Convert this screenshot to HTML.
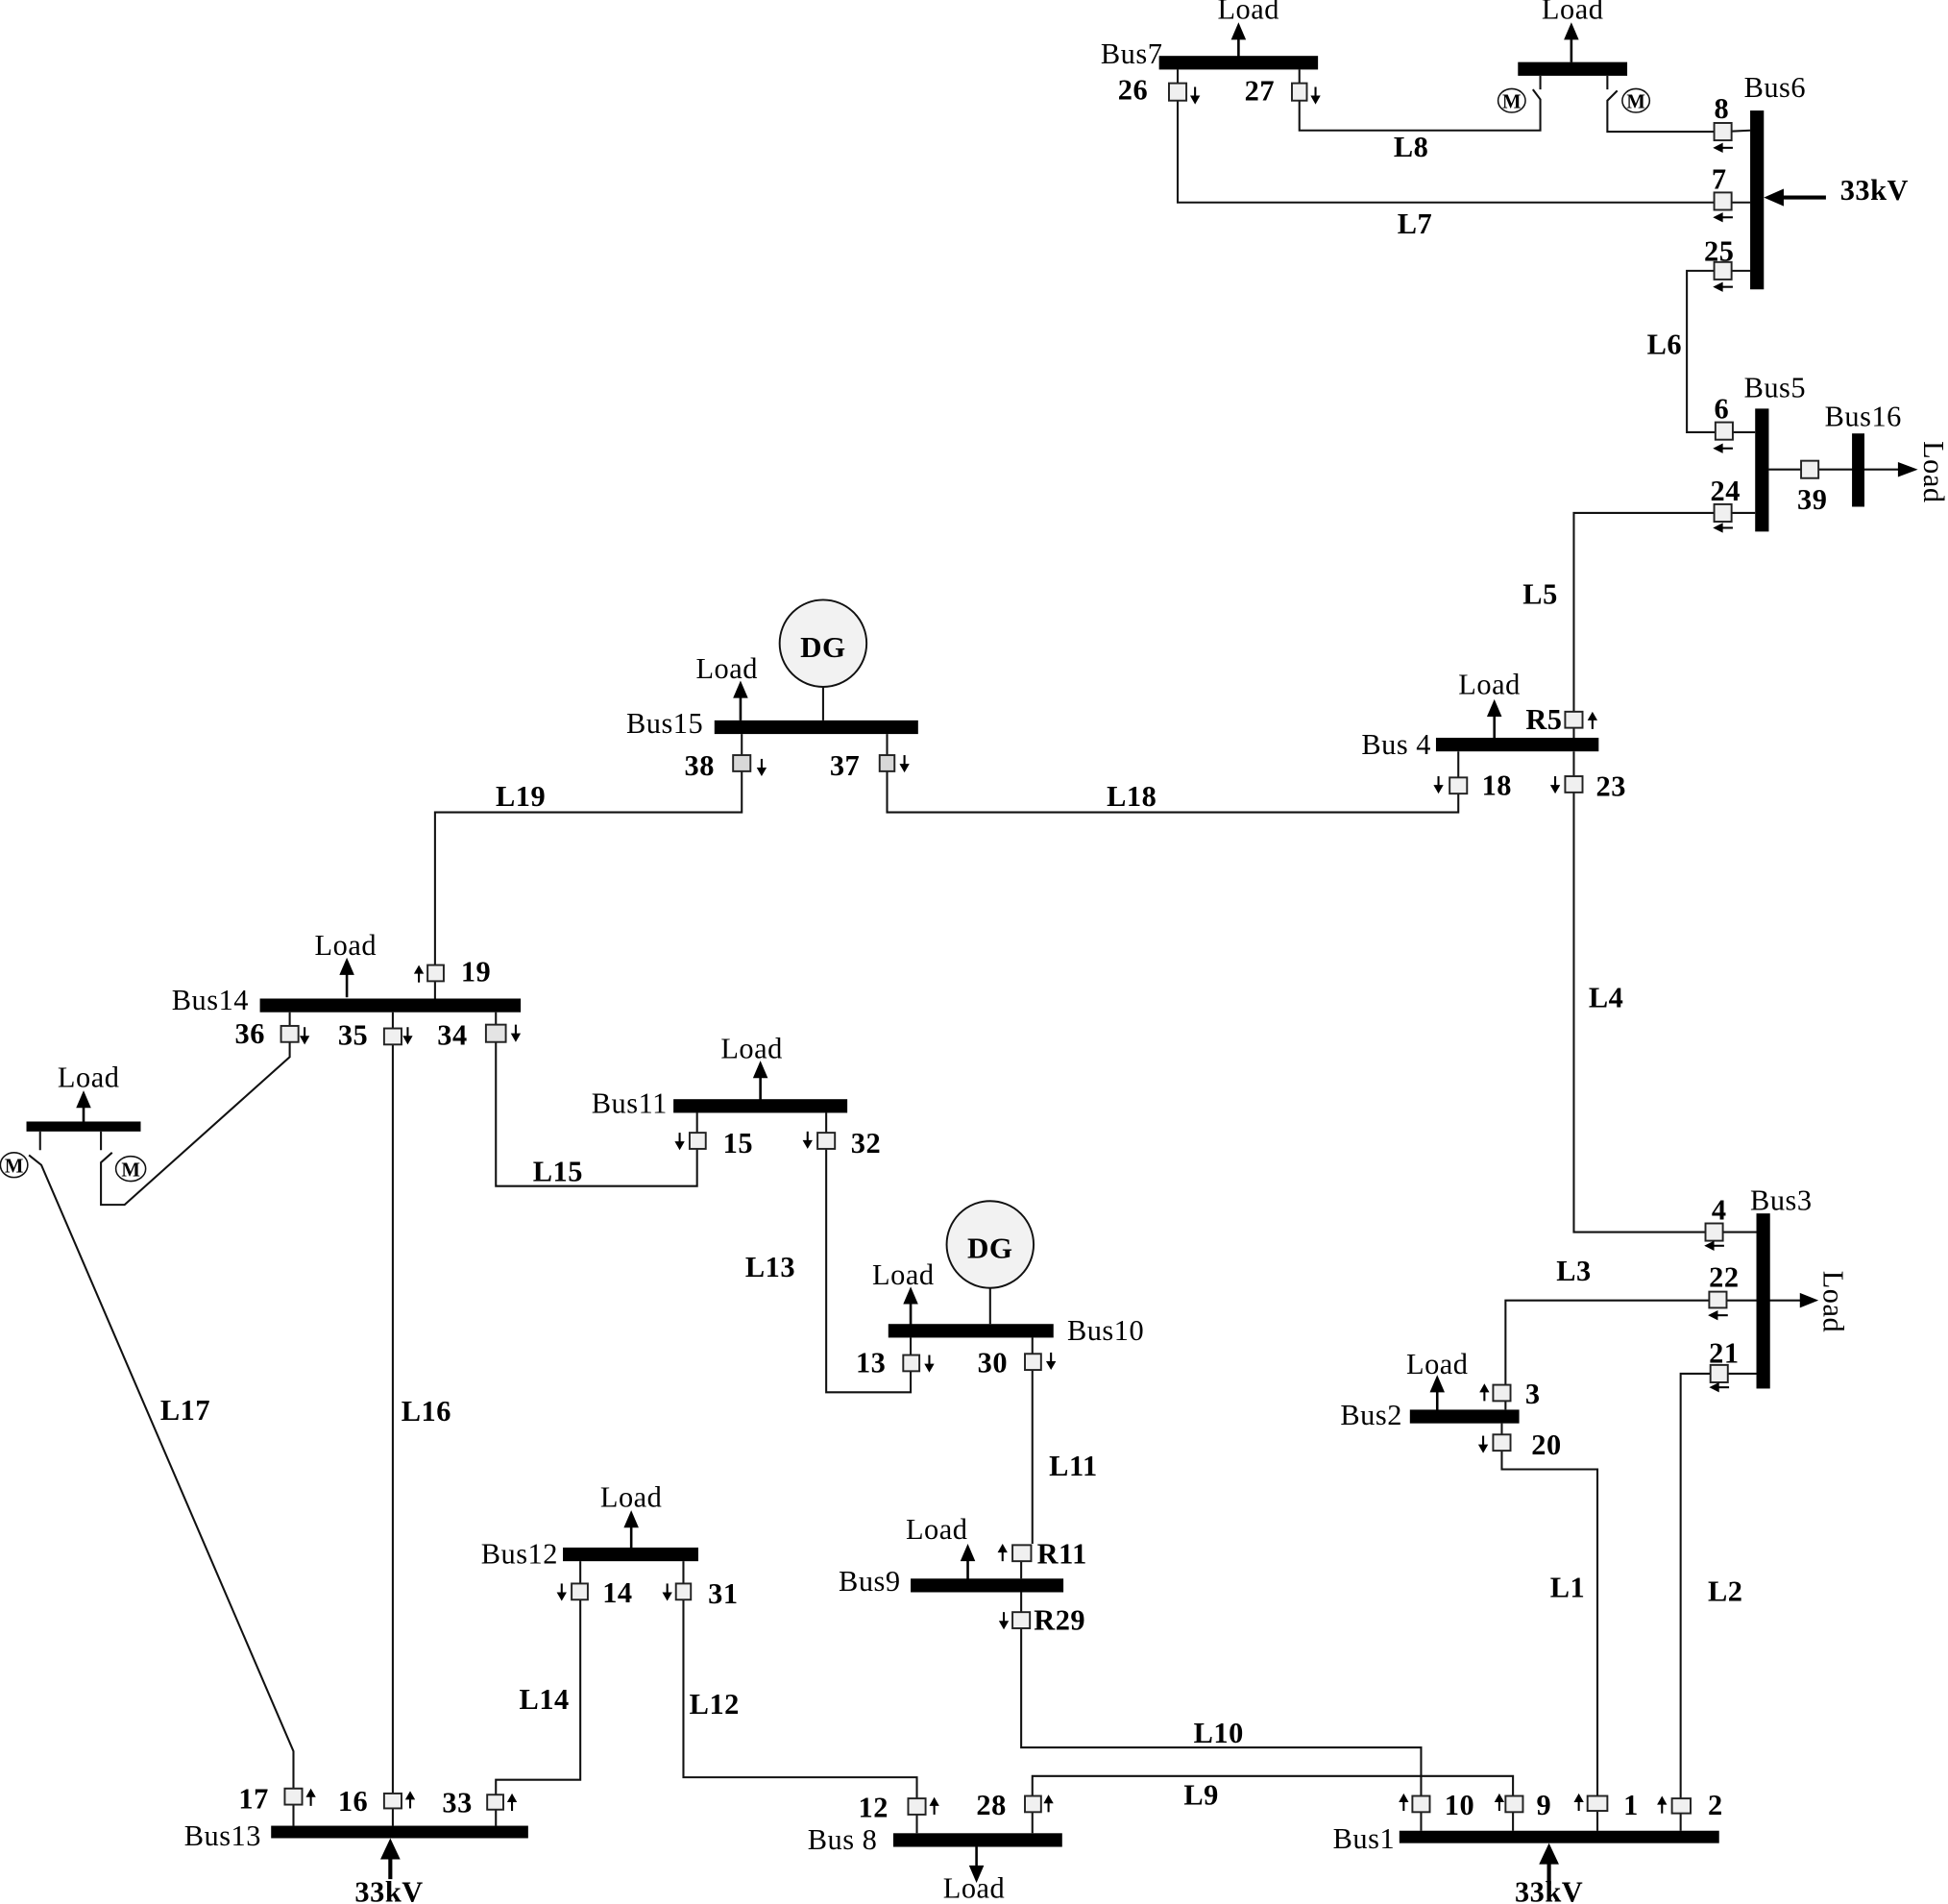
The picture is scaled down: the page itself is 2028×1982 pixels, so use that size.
<!DOCTYPE html>
<html><head><meta charset="utf-8"><style>
html,body{margin:0;padding:0;background:#fff}
svg{display:block}
text{font-family:"Liberation Serif",serif;fill:#000}
.n{font-size:23.5px;letter-spacing:.4px}
.b{font-size:23.5px;font-weight:bold;text-anchor:middle;letter-spacing:.4px}
.c{text-anchor:middle}
.w{fill:none;stroke:#111;stroke-width:1.6}
.bar{fill:#000}
.br{fill:#f0f0f0;stroke:#222;stroke-width:1.5}
.m{font-size:16px;font-weight:bold;text-anchor:middle}
.e{fill:#fff;stroke:#111;stroke-width:1.2}
.dg{fill:#f2f2f2;stroke:#111;stroke-width:1.5}
</style></head><body>
<svg width="2028" height="1982" viewBox="0 0 1568 1533" xmlns="http://www.w3.org/2000/svg">
<defs>
<g id="u"><path d="M0,7V-2" stroke="#000" stroke-width="1.6"/><path d="M-4,0L4,0L0,-7Z" fill="#000"/></g>
<g id="d"><path d="M0,-7V2" stroke="#000" stroke-width="1.6"/><path d="M-4,0L4,0L0,7Z" fill="#000"/></g>
<g id="l"><path d="M8,0H-2" stroke="#000" stroke-width="1.6"/><path d="M0,-4L0,4L-8,0Z" fill="#000"/></g>
<g id="U"><path d="M0,32V10" stroke="#000" stroke-width="2"/><path d="M-6,14L6,14L0,0Z" fill="#000"/></g>
<g id="T"><path d="M0,33V12" stroke="#000" stroke-width="3.2"/><path d="M-8,17L8,17L0,0Z" fill="#000"/></g>
</defs>

<!-- wires -->
<g class="w">
<path d="M948,56V163H1409"/>
<path d="M1046,56V105H1240V80L1234,72"/>
<path d="M1240,61V72M1294,61V72"/>
<path d="M1302,73L1294,81V106H1387L1409,105"/>
<path d="M1409,218H1358V348H1413"/>
<path d="M1413,413H1267V594"/>
<path d="M1424,378H1530"/>
<path d="M1267,605V992H1414"/>
<path d="M1414,1047H1212V1135"/>
<path d="M1209,1146V1183H1286V1474"/>
<path d="M1414,1106H1353V1474"/>
<path d="M1174,605V654H714V591"/>
<path d="M597,591V654H350V804"/>
<path d="M233,815V851L100,970H81V936L90,928"/>
<path d="M81,911V926M32,911V926"/>
<path d="M23,930L33,938L236,1410V1470"/>
<path d="M316,815V1470"/>
<path d="M399,815V955H561V896"/>
<path d="M665,896V1121H733V1077"/>
<path d="M831,1077V1243"/>
<path d="M822,1257V1271M822,1282V1407H1144V1474"/>
<path d="M738,1476V1431H550V1257"/>
<path d="M467,1257V1433H399V1470"/>
<path d="M831,1476V1430H1218V1474"/>
<path d="M1424,1047H1452"/>
<path d="M662.500,553V580M797,1037V1066"/>
</g>

<!-- bars -->
<g class="bar">
<rect x="933" y="45" width="128" height="11"/>
<rect x="1222" y="50" width="88" height="11"/>
<rect x="1409" y="89" width="11" height="144"/>
<rect x="1413" y="329" width="11" height="99"/>
<rect x="1491" y="349" width="10" height="59"/>
<rect x="1156" y="594" width="131" height="11"/>
<rect x="575" y="580" width="164" height="11"/>
<rect x="209" y="804" width="210" height="11"/>
<rect x="21" y="903" width="92" height="8"/>
<rect x="542" y="885" width="140" height="11"/>
<rect x="715" y="1066" width="133" height="11"/>
<rect x="1414" y="977" width="11" height="141"/>
<rect x="1135" y="1135" width="88" height="11"/>
<rect x="733" y="1271" width="123" height="11"/>
<rect x="453" y="1246" width="109" height="11"/>
<rect x="218" y="1470" width="207" height="10"/>
<rect x="719" y="1476" width="136" height="11"/>
<rect x="1126.500" y="1474" width="257.500" height="10"/>
</g>

<!-- load arrows -->
<use href="#U" x="997" y="18"/>
<use href="#U" x="1265" y="18"/>
<use href="#U" x="1203" y="563"/>
<use href="#U" x="596" y="548"/>
<use href="#U" x="279" y="771"/>
<use href="#U" x="67" y="878"/>
<use href="#U" x="612" y="854"/>
<use href="#U" x="733" y="1036"/>
<use href="#U" x="1157" y="1107"/>
<use href="#U" x="779" y="1243"/>
<use href="#U" x="508" y="1216"/>
<path d="M786,1487V1505" stroke="#000" stroke-width="2"/><path d="M780,1502H792L786,1516Z" fill="#000"/>
<path d="M1528,372V384L1544,378Z" fill="#000"/>
<path d="M1449,1041V1053L1464,1047Z" fill="#000"/>
<use href="#T" x="314" y="1480"/>
<use href="#T" x="1247" y="1484"/>
<path d="M1470,159H1432" stroke="#000" stroke-width="3.2"/><path d="M1436,152V166L1420,159Z" fill="#000"/>

<!-- breakers -->
<g class="br">
<rect x="941" y="67" width="14" height="14"/>
<rect x="1040" y="67" width="12" height="14"/>
<rect x="1380" y="99" width="14" height="14"/>
<rect x="1380" y="155" width="14" height="14"/>
<rect x="1380" y="211" width="14" height="14"/>
<rect x="1381" y="340" width="14" height="14"/>
<rect x="1380" y="406" width="14" height="14"/>
<rect x="1450" y="371" width="14" height="14"/>
<rect x="1260" y="573" width="14" height="13"/>
<rect x="1167" y="626" width="14" height="13"/>
<rect x="1260" y="625" width="14" height="13"/>
<rect x="590" y="608" width="14" height="13" style="fill:#d8d8d8"/>
<rect x="708" y="608" width="12" height="13" style="fill:#d8d8d8"/>
<rect x="344" y="777" width="13" height="13"/>
<rect x="226" y="826" width="14" height="13"/>
<rect x="309" y="828" width="14" height="13"/>
<rect x="391" y="825" width="16" height="14" style="fill:#e4e4e4"/>
<rect x="555" y="912" width="13" height="13"/>
<rect x="658" y="912" width="14" height="13"/>
<rect x="727" y="1091" width="13" height="13"/>
<rect x="825" y="1090" width="13" height="13"/>
<rect x="1373" y="985" width="14" height="14"/>
<rect x="1376" y="1040" width="14" height="13"/>
<rect x="1377" y="1099" width="14" height="14"/>
<rect x="1202" y="1115" width="14" height="13"/>
<rect x="1202" y="1155" width="14" height="13"/>
<rect x="815" y="1244" width="15" height="13"/>
<rect x="815" y="1298" width="14" height="13"/>
<rect x="460" y="1275" width="13" height="13"/>
<rect x="544" y="1275" width="12" height="13"/>
<rect x="229" y="1440" width="14" height="13"/>
<rect x="309" y="1444" width="14" height="12"/>
<rect x="392" y="1445" width="13" height="12"/>
<rect x="731" y="1448" width="14" height="13"/>
<rect x="825" y="1446" width="13" height="13"/>
<rect x="1137" y="1446" width="14" height="13"/>
<rect x="1212" y="1446" width="14" height="13"/>
<rect x="1278" y="1446" width="16" height="12"/>
<rect x="1346" y="1448" width="15" height="12"/>
</g>

<!-- small arrows -->
<use href="#d" x="962" y="77"/><use href="#d" x="1059" y="77"/>
<use href="#l" x="1387" y="119"/><use href="#l" x="1387" y="175"/><use href="#l" x="1387" y="231"/>
<use href="#l" x="1387" y="361"/><use href="#l" x="1387" y="425"/>
<use href="#u" x="1282" y="580"/>
<use href="#d" x="1158" y="632"/><use href="#d" x="1252" y="632"/>
<use href="#d" x="613" y="618"/><use href="#d" x="728" y="615"/>
<use href="#u" x="337" y="784"/>
<use href="#d" x="245" y="834"/><use href="#d" x="328" y="834"/><use href="#d" x="415" y="832"/>
<use href="#d" x="547" y="919"/><use href="#d" x="650" y="918"/>
<use href="#d" x="748" y="1098"/><use href="#d" x="846" y="1096"/>
<use href="#l" x="1380" y="1003"/><use href="#l" x="1383" y="1059"/><use href="#l" x="1384" y="1117"/>
<use href="#u" x="1195" y="1121"/><use href="#d" x="1194" y="1163"/>
<use href="#u" x="807" y="1250"/><use href="#d" x="808" y="1305"/>
<use href="#d" x="452" y="1282"/><use href="#d" x="537" y="1282"/>
<use href="#u" x="250" y="1447"/><use href="#u" x="330" y="1449"/><use href="#u" x="412" y="1451"/>
<use href="#u" x="752" y="1454"/><use href="#u" x="844" y="1452"/>
<use href="#u" x="1130" y="1451"/><use href="#u" x="1207" y="1451"/><use href="#u" x="1271" y="1451"/><use href="#u" x="1338" y="1453"/>

<!-- motors -->
<ellipse class="e" cx="1217" cy="81" rx="11" ry="9.500"/><text class="m" x="1217" y="87">M</text>
<ellipse class="e" cx="1317" cy="81" rx="11" ry="9.500"/><text class="m" x="1317" y="87">M</text>
<ellipse class="e" cx="11" cy="938" rx="11" ry="10"/><text class="m" x="11" y="944">M</text>
<ellipse class="e" cx="105" cy="941" rx="12" ry="10"/><text class="m" x="105" y="947">M</text>

<!-- DG -->
<circle class="dg" cx="662.500" cy="518" r="35"/>
<text class="b" x="662.500" y="529" style="font-size:24px">DG</text>
<circle class="dg" cx="797" cy="1002" r="35"/>
<text class="b" x="797" y="1013" style="font-size:24px">DG</text>

<!-- Load labels -->
<text class="n c" x="1005" y="15">Load</text>
<text class="n c" x="1266" y="15">Load</text>
<text class="n c" x="1199" y="559">Load</text>
<text class="n c" x="585" y="546">Load</text>
<text class="n c" x="278" y="769">Load</text>
<text class="n c" x="71" y="875">Load</text>
<text class="n c" x="605" y="852">Load</text>
<text class="n c" x="727" y="1034">Load</text>
<text class="n c" x="1157" y="1106">Load</text>
<text class="n c" x="754" y="1239">Load</text>
<text class="n c" x="508" y="1213">Load</text>
<text class="n c" x="784" y="1528">Load</text>
<text class="n c" transform="translate(1549,380) rotate(90)">Load</text>
<text class="n c" transform="translate(1468,1048) rotate(90)">Load</text>

<!-- bus labels -->
<text class="n" x="886" y="51">Bus7</text>
<text class="n" x="1404" y="78">Bus6</text>
<text class="n" x="1404" y="320">Bus5</text>
<text class="n" x="1469" y="343">Bus16</text>
<text class="n" x="1096" y="607">Bus 4</text>
<text class="n" x="504" y="590">Bus15</text>
<text class="n" x="138" y="813">Bus14</text>
<text class="n" x="476" y="896">Bus11</text>
<text class="n" x="859" y="1079">Bus10</text>
<text class="n" x="1409" y="974">Bus3</text>
<text class="n" x="1079" y="1147">Bus2</text>
<text class="n" x="675" y="1281">Bus9</text>
<text class="n" x="387" y="1259">Bus12</text>
<text class="n" x="148" y="1486">Bus13</text>
<text class="n" x="650" y="1489">Bus 8</text>
<text class="n" x="1073" y="1488">Bus1</text>

<!-- bold numbers -->
<text class="b" x="912" y="80">26</text>
<text class="b" x="1014" y="81">27</text>
<text class="b" x="1386" y="95">8</text>
<text class="b" x="1384" y="152">7</text>
<text class="b" x="1384" y="210">25</text>
<text class="b" x="1386" y="337">6</text>
<text class="b" x="1389" y="403">24</text>
<text class="b" x="1459" y="410">39</text>
<text class="b" x="1243" y="587">R5</text>
<text class="b" x="1205" y="640">18</text>
<text class="b" x="1297" y="641">23</text>
<text class="b" x="563" y="624">38</text>
<text class="b" x="680" y="624">37</text>
<text class="b" x="383" y="790">19</text>
<text class="b" x="201" y="840">36</text>
<text class="b" x="284" y="841">35</text>
<text class="b" x="364" y="841">34</text>
<text class="b" x="594" y="928">15</text>
<text class="b" x="697" y="928">32</text>
<text class="b" x="701" y="1105">13</text>
<text class="b" x="799" y="1105">30</text>
<text class="b" x="1384" y="982">4</text>
<text class="b" x="1388" y="1036">22</text>
<text class="b" x="1388" y="1097">21</text>
<text class="b" x="1234" y="1130">3</text>
<text class="b" x="1245" y="1171">20</text>
<text class="b" x="855" y="1259">R11</text>
<text class="b" x="853" y="1312">R29</text>
<text class="b" x="497" y="1290">14</text>
<text class="b" x="582" y="1291">31</text>
<text class="b" x="204" y="1456">17</text>
<text class="b" x="284" y="1458">16</text>
<text class="b" x="368" y="1459">33</text>
<text class="b" x="703" y="1463">12</text>
<text class="b" x="798" y="1461">28</text>
<text class="b" x="1175" y="1461">10</text>
<text class="b" x="1243" y="1461">9</text>
<text class="b" x="1313" y="1461">1</text>
<text class="b" x="1381" y="1461">2</text>
<text class="b" x="1509" y="161">33kV</text>
<text class="b" x="313" y="1531">33kV</text>
<text class="b" x="1247" y="1531">33kV</text>

<!-- line labels -->
<text class="b" x="1136" y="126">L8</text>
<text class="b" x="1139" y="188">L7</text>
<text class="b" x="1340" y="285">L6</text>
<text class="b" x="1240" y="486">L5</text>
<text class="b" x="1293" y="811">L4</text>
<text class="b" x="1267" y="1031">L3</text>
<text class="b" x="1389" y="1289">L2</text>
<text class="b" x="1262" y="1286">L1</text>
<text class="b" x="981" y="1403">L10</text>
<text class="b" x="967" y="1453">L9</text>
<text class="b" x="864" y="1188">L11</text>
<text class="b" x="575" y="1380">L12</text>
<text class="b" x="438" y="1376">L14</text>
<text class="b" x="620" y="1028">L13</text>
<text class="b" x="449" y="951">L15</text>
<text class="b" x="343" y="1144">L16</text>
<text class="b" x="149" y="1143">L17</text>
<text class="b" x="419" y="649">L19</text>
<text class="b" x="911" y="649">L18</text>
</svg>
</body></html>
